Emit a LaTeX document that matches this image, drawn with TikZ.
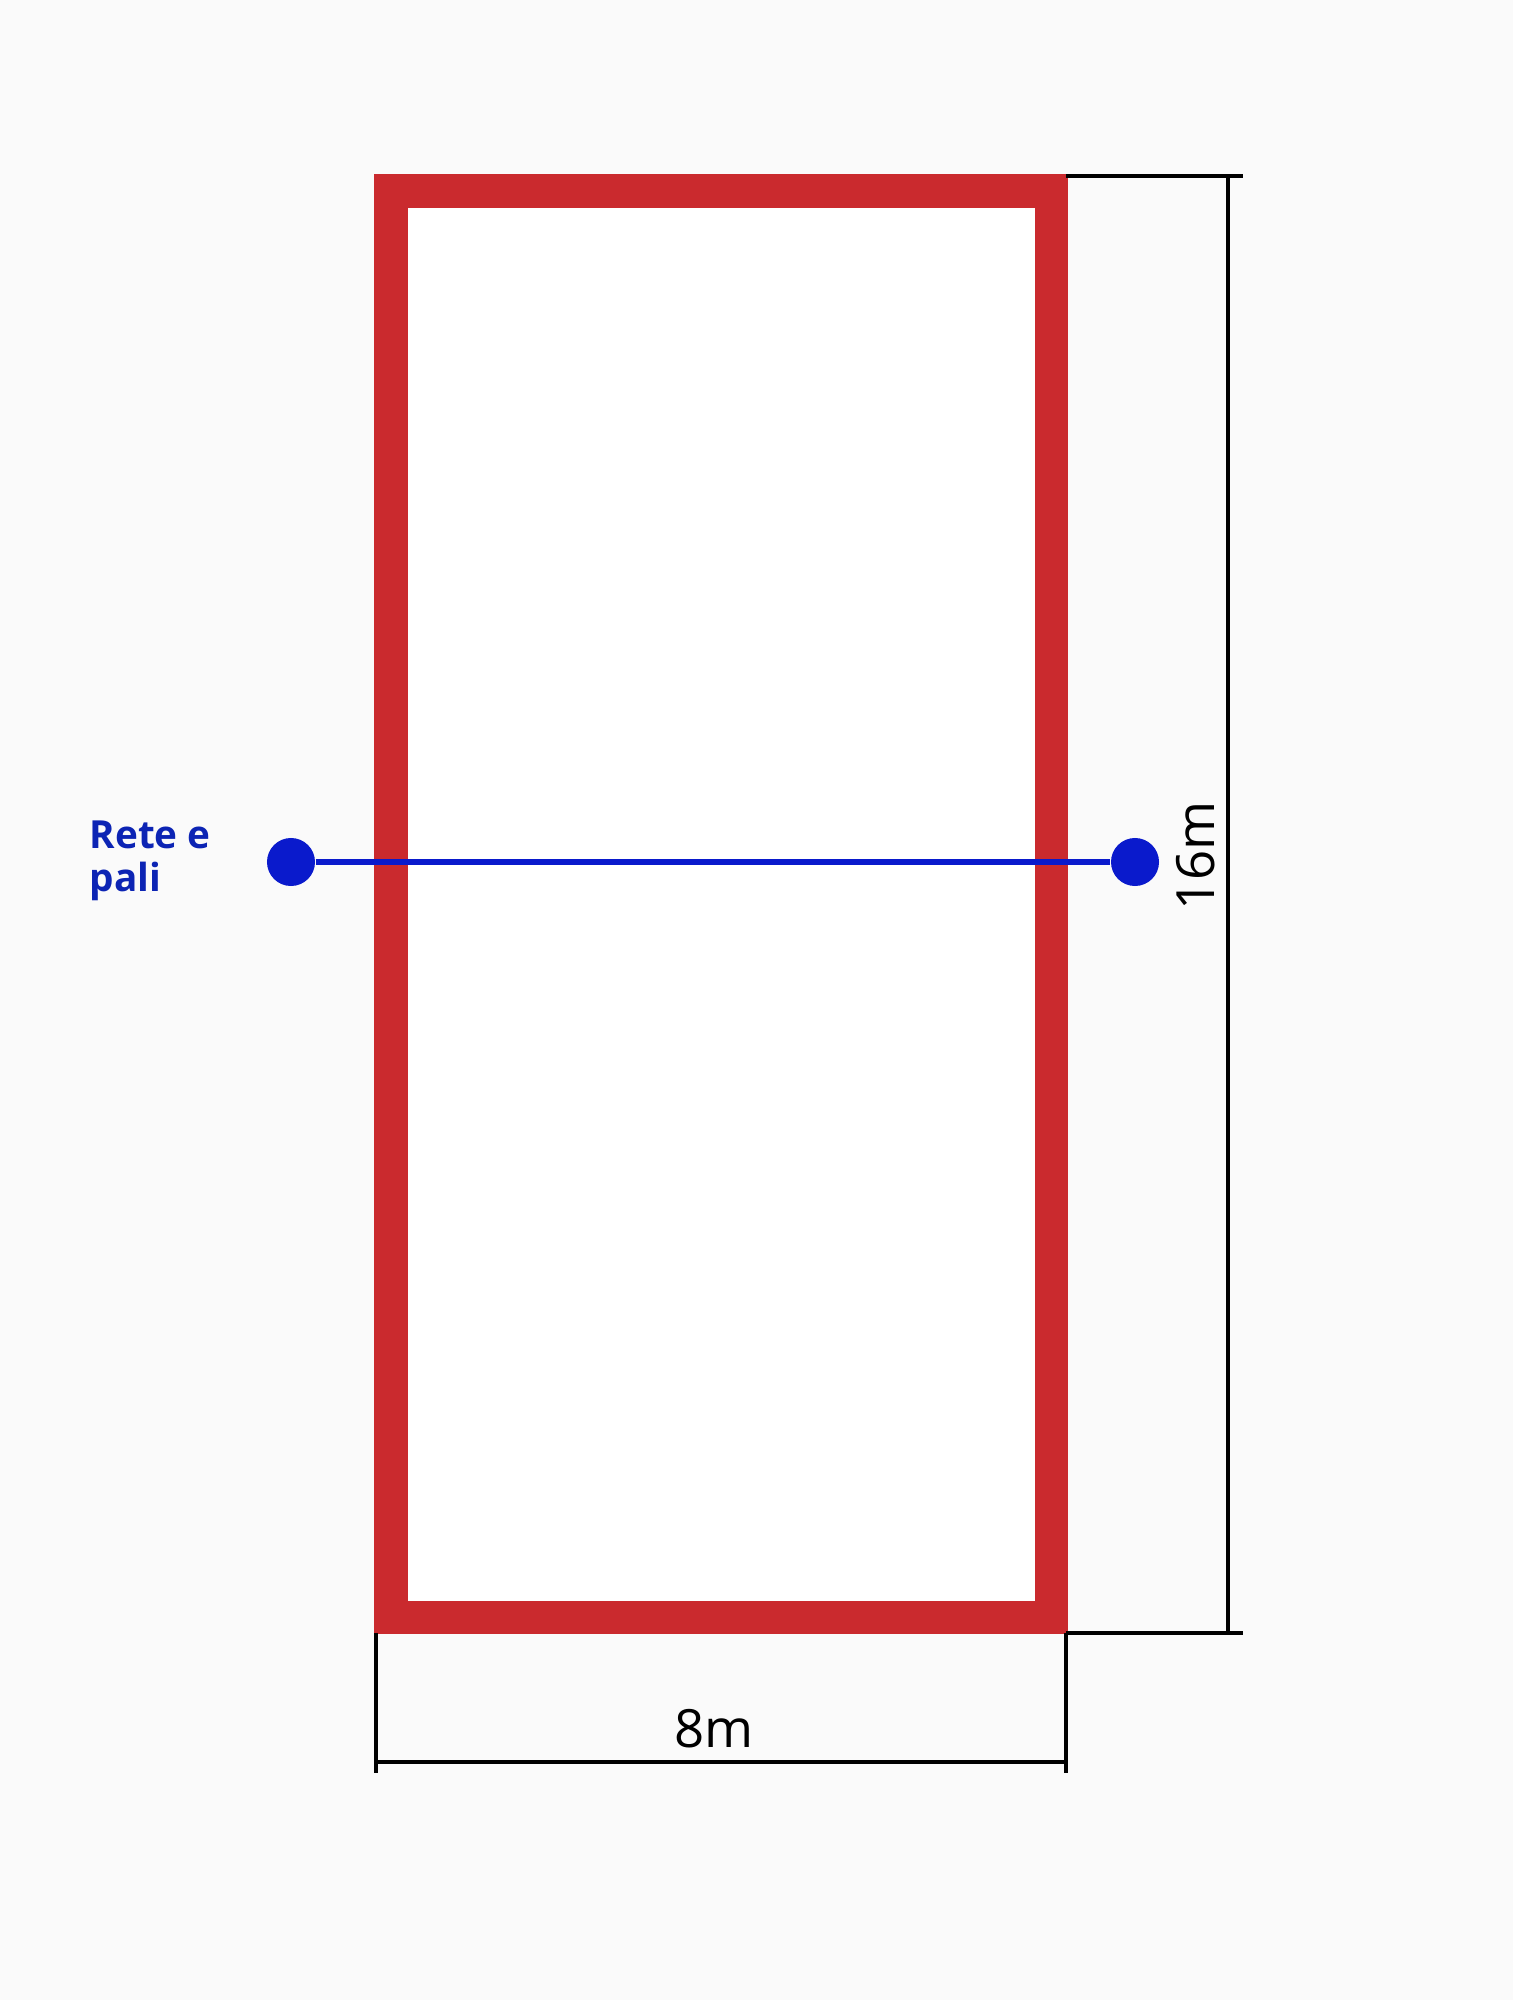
\documentclass[tikz,border=0pt]{standalone}
\usepackage{fontspec}
\setmainfont{Open Sans}
\usetikzlibrary{positioning}
\definecolor{courtred}{RGB}{202,42,46}
\definecolor{netblue}{RGB}{10,26,204}
\definecolor{labelblue}{RGB}{12,36,180}
\definecolor{paper}{RGB}{250,250,250}
\tikzset{
  dimline/.style={black, line width=1.1pt},
  post/.style={circle, fill=netblue, inner sep=0pt, minimum size=0.48cm},
  netline/.style={netblue, line width=1.6pt},
  dimtext/.style={font=\fontsize{15}{18}\selectfont},
  netlabel/.style={labelblue, align=left, inner sep=0pt, font=\bfseries\fontsize{11}{12.2}\selectfont}
}

\begin{document}
\begin{tikzpicture}[x=0.01cm, y=-0.01cm]
\fill[paper] (0,0) rectangle (1513,2000);
\useasboundingbox (0,0) rectangle (1513,2000);
% campo
\fill[white] (391,191) rectangle (1051,1617);
\draw[courtred, line width=0.33cm] (391,191) rectangle (1051,1617);

% quote
\coordinate (tl) at (1066,176);
\coordinate (tr) at (1243,176);
\coordinate (bl) at (1066,1633);
\coordinate (br) at (1243,1633);
\coordinate (vt) at (1228,176);
\coordinate (vb) at (1228,1633);
\draw[dimline] (tl) -- (tr);
\draw[dimline] (bl) -- (br);
\draw[dimline] (vt) -- (vb);
\node[dimtext, rotate=90] (h) at (1196,856) {16m};

\coordinate (la) at (376,1633);
\coordinate (lb) at (376,1773);
\coordinate (ra) at (1066,1633);
\coordinate (rb) at (1066,1773);
\coordinate (wl) at (376,1762);
\coordinate (wr) at (1066,1762);
\draw[dimline] (la) -- (lb);
\draw[dimline] (ra) -- (rb);
\draw[dimline] (wl) -- (wr);
\node[dimtext] (w) at (714,1729) {8m};

% rete
\node[post] (pl) at (291,862) {};
\node[post] (pr) at (1135,862) {};
\draw[netline] (pl) -- (pr);
\node[netlabel, anchor=west] (lab) at (89,861) {Rete e\\pali};
\end{tikzpicture}
\end{document}
